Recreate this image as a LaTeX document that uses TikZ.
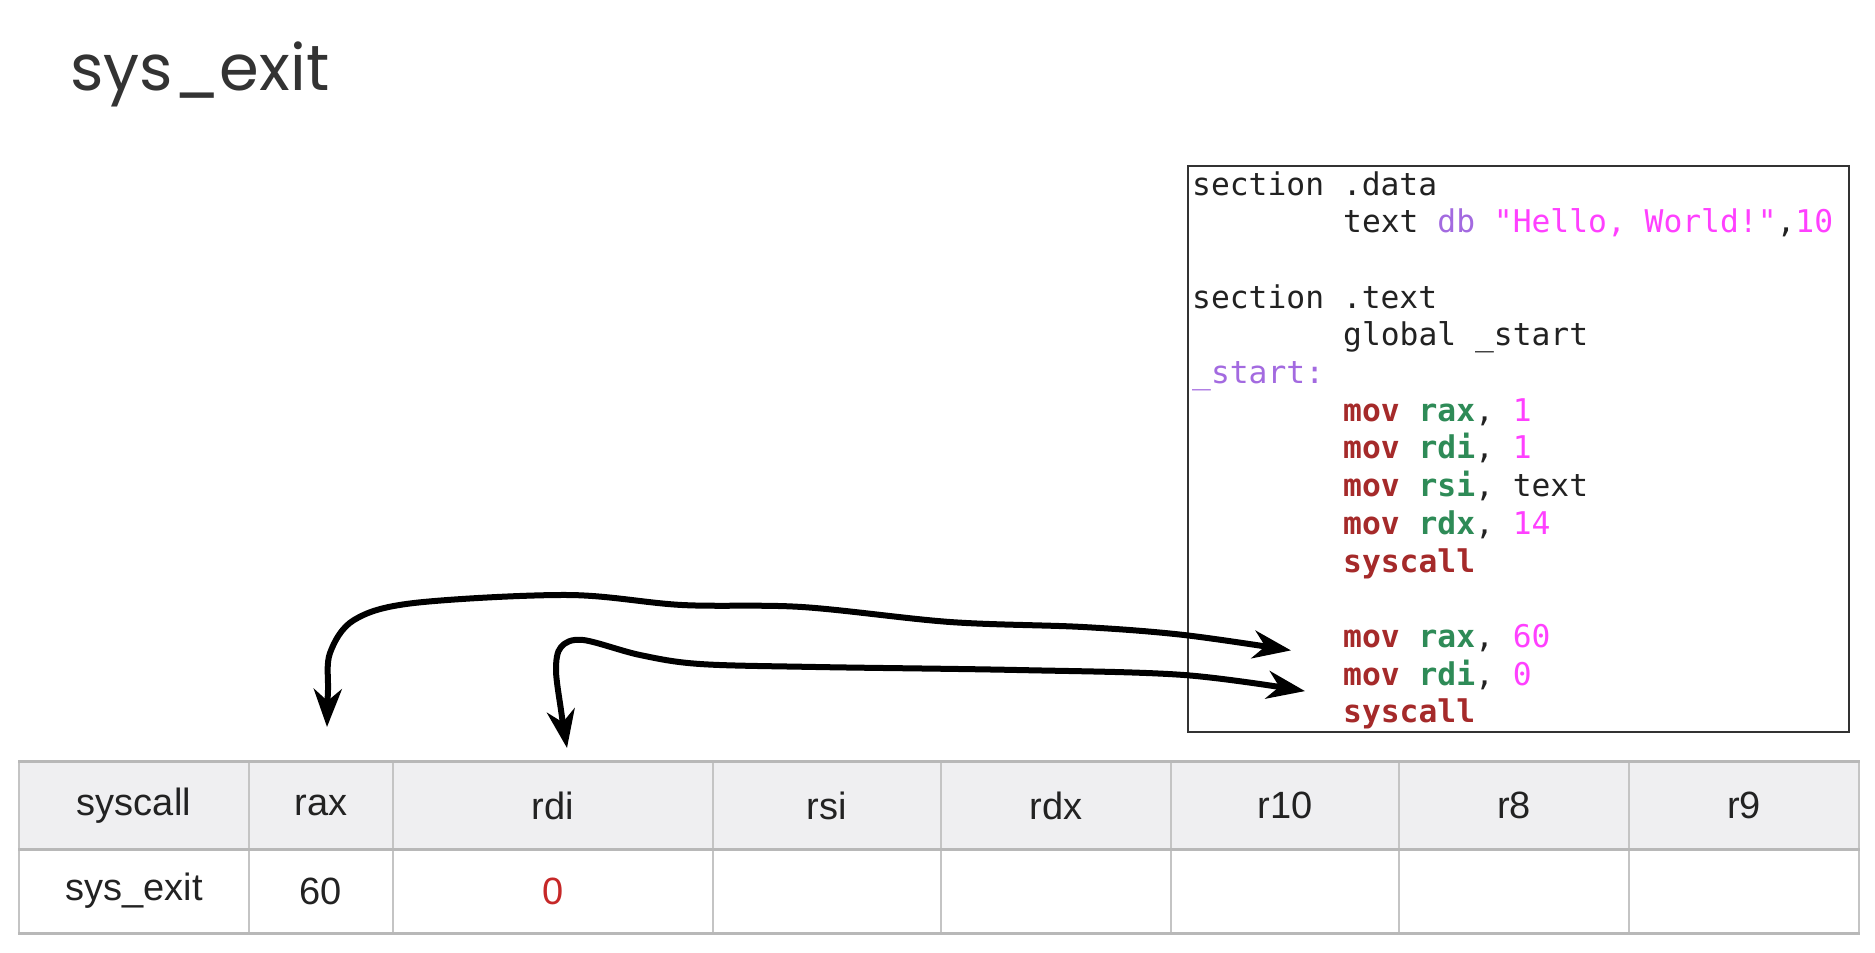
\documentclass[tikz,border=0pt]{standalone}
\usepackage{fontspec}
\setmainfont{Liberation Sans}
\newfontfamily\titlefont{Poppins}
\newfontfamily\codefont{DejaVu Sans Mono}
\usetikzlibrary{arrows.meta}
\definecolor{kwc}{HTML}{A52A2A}
\definecolor{rgc}{HTML}{2E8B57}
\definecolor{nmc}{HTML}{FF40FF}
\definecolor{ppc}{HTML}{A36AE0}
\definecolor{txc}{HTML}{222222}
\definecolor{titc}{HTML}{333333}
\definecolor{gridc}{HTML}{C4C4C4}
\definecolor{edgec}{HTML}{B8B8B8}
\definecolor{headc}{HTML}{EFEFF1}
\definecolor{zeroc}{HTML}{C62828}
\newcommand\kwd[1]{\textbf{\textcolor{kwc}{#1}}}
\newcommand\rgs[1]{\textbf{\textcolor{rgc}{#1}}}
\newcommand\nmb[1]{\textcolor{nmc}{#1}}
\newcommand\ppl[1]{\textcolor{ppc}{#1}}
\begin{document}
\begin{tikzpicture}[x=1pt,y=-1pt,
  codeline/.style={anchor=base west,inner sep=0pt,text=txc,font=\codefont\fontsize{31.3}{37}\selectfont},
  cellbase/.style={draw=gridc,line width=1.2pt,minimum height=#1,inner sep=0pt,text=txc,font=\fontsize{38}{44}\selectfont},
  hcell/.style={cellbase=87,fill=headc},
  bcell/.style={cellbase=84,fill=white},
  arr/.style={line width=6pt,black,{Stealth[length=38pt,width=28pt,inset=12pt]}-{Stealth[length=38pt,width=28pt,inset=12pt]}}
]
\useasboundingbox[fill=white] (0,0) rectangle (1875,953);

% title
\node[anchor=base west,inner sep=0pt,text=titc,font=\titlefont\fontsize{64}{76}\selectfont] (title) at (70,90) {sys\_exit};

% code box
\node[draw=black!80,line width=2pt,minimum width=661,minimum height=566,inner sep=0pt] (codebox) at (1518.5,449) {};
\node[codeline] (l0) at (1192,195.0) {section .data};
\node[codeline] (l1) at (1343,232.7) {text \ppl{db} \nmb{"Hello, World!"},\nmb{10}};
\node[codeline] (l3) at (1192,308.1) {section .text};
\node[codeline] (l4) at (1343,345.8) {global \_start};
\node[codeline] (l5) at (1192,383.5) {\ppl{\_start:}};
\node[codeline] (l6) at (1343,421.2) {\kwd{mov} \rgs{rax}, \nmb{1}};
\node[codeline] (l7) at (1343,458.9) {\kwd{mov} \rgs{rdi}, \nmb{1}};
\node[codeline] (l8) at (1343,496.6) {\kwd{mov} \rgs{rsi}, text};
\node[codeline] (l9) at (1343,534.3) {\kwd{mov} \rgs{rdx}, \nmb{14}};
\node[codeline] (l10) at (1343,572.0) {\kwd{syscall}};
\node[codeline] (l12) at (1343,647.4) {\kwd{mov} \rgs{rax}, \nmb{60}};
\node[codeline] (l13) at (1343,685.1) {\kwd{mov} \rgs{rdi}, \nmb{0}};
\node[codeline] (l14) at (1343,722.8) {\kwd{syscall}};

% table header
\node[hcell,minimum width=230] (hsys) at (134,805.5) {syscall};
\node[hcell,minimum width=144] (hrax) at (321,805.5) {rax};
\node[hcell,minimum width=320] (hrdi) at (553,805.5) {rdi};
\node[hcell,minimum width=228] (hrsi) at (827,805.5) {rsi};
\node[hcell,minimum width=230] (hrdx) at (1056,805.5) {rdx};
\node[hcell,minimum width=228] (hr10) at (1285,805.5) {r10};
\node[hcell,minimum width=230] (hr8) at (1514,805.5) {r8};
\node[hcell,minimum width=230] (hr9) at (1744,805.5) {r9};
% table body
\node[bcell,minimum width=230] (bsys) at (134,891) {sys\_exit};
\node[bcell,minimum width=144] (brax) at (321,891) {60};
\node[bcell,minimum width=320] (brdi) at (553,891) {\textcolor{zeroc}{0}};
\node[bcell,minimum width=228] (brsi) at (827,891) {};
\node[bcell,minimum width=230] (brdx) at (1056,891) {};
\node[bcell,minimum width=228] (br10) at (1285,891) {};
\node[bcell,minimum width=230] (br8) at (1514,891) {};
\node[bcell,minimum width=230] (br9) at (1744,891) {};
% heavier horizontal rules
\draw[edgec,line width=3pt] (hsys.north west) -- (hr9.north east);
\draw[edgec,line width=3pt] (hsys.south west) -- (hr9.south east);
\draw[edgec,line width=3pt] (bsys.south west) -- (br9.south east);

% arrow end points
\coordinate (raxend) at (327,727);
\coordinate (rdiend) at (567,748);
\coordinate (movraxend) at ([xshift=-52pt,yshift=-3pt]l12.base west);
\coordinate (movrdiend) at ([xshift=-38pt,yshift=-6pt]l13.base west);

\draw[arr] plot[smooth,tension=0.55] coordinates {(raxend) (328,690) (330,653) (354,620) (414,603) (568,595) (682,605) (802,607) (950,622) (1083,627) (1184,635) (movraxend)};
\draw[arr] plot[smooth,tension=0.55] coordinates {(rdiend) (561,710) (556,670) (561,647) (583,640) (640,655) (700,664) (816,667) (1017,670) (1184,675) (movrdiend)};
\end{tikzpicture}
\end{document}
